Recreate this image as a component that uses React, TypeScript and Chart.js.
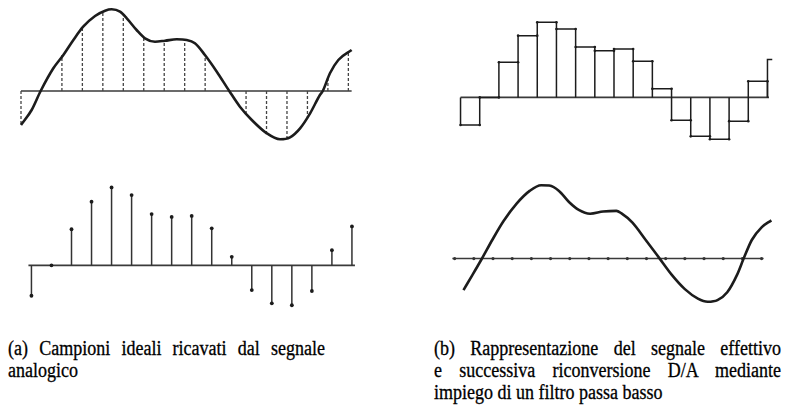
import { useEffect, useRef } from "react";
import Chart from "chart.js/auto";

// ---------- DATA (sample index on x, amplitude on y) ----------
const sampleIndex = [0, 1, 2, 3, 4, 5, 6, 7, 8, 9, 10, 11, 12, 13, 14, 15, 16];

// (a) top: analog signal
const analogX = [0, 0.52, 0.96, 1.58, 2.07, 2.56, 3.04, 3.62, 4.11, 4.43, 4.84, 5.17, 5.65, 6.06, 6.55, 7.04, 7.61, 8.1, 8.5, 8.99, 9.57, 10.18, 10.7, 11.28, 12.01, 12.66, 13.15, 13.64, 14.13, 14.61, 14.75, 15.1, 15.51, 16.16];
const analogY = [-34, -19, 0, 22.7, 36, 51, 64.3, 75, 80.3, 81.7, 79.3, 72.7, 61, 52.7, 49.3, 50.3, 51.7, 51, 47.7, 36, 19.3, 0, -15.7, -29, -42.3, -48.3, -46.3, -37.3, -22.3, -4, 0, 17.7, 31, 41];
// dashed sampling lines in (a) top
const analogAtSamples = [-34, 0, 36, 64, 80, 73, 53, 50, 51, 36, 0, -22, -42, -47, -26, 12, 39];

// (a) bottom: ideal samples
const idealSamples = [-32, 0, 38, 67, 82, 74, 54, 51, 52, 39, 9, -26, -40, -42, -27, 16, 41];

// (b) top: held levels of the effective signal
const heldLevels = [-29, 0, 37, 65, 79, 72, 53, 49, 51, 38, 9, -24, -41, -44, -25, 17];
const lastHeld = 40;

// (b) bottom: reconstructed (low-pass filtered) signal
const reconX = [0.46, 0.93, 1.41, 1.96, 2.55, 3.23, 3.91, 4.51, 4.93, 5.44, 5.96, 6.47, 7.06, 7.74, 8.43, 8.68, 9.27, 9.96, 10.64, 11.32, 12.0, 12.68, 13.19, 13.7, 14.21, 14.72, 15.07, 15.49, 16.0, 16.51];
const reconY = [-33.2, -17.2, -0.5, 19.5, 39.5, 57.8, 71.2, 77.2, 76.8, 71.2, 59.5, 51.2, 47.2, 49.5, 50.2, 47.8, 37.8, 19.5, 1.2, -17.2, -32.2, -42.2, -45.5, -43.8, -35.5, -17.2, 0.2, 19.5, 32.8, 40.2];

// axis extents (in sample-index units)
const axisA = [0, 16.16];
const axisB = [-0.15, 16.15];
const axisC = [0, 16.08];
const axisD = [-0.12, 16.1];

const captionA = ["(a) Campioni ideali ricavati dal segnale", "analogico"];
const captionB = [
  "(b) Rappresentazione del segnale effettivo",
  "e successiva riconversione D/A mediante",
  "impiego di un filtro passa basso",
];

// ---------- LAYOUT ----------
type Box = { left: number; top: number; width: number; height: number };
const boxA: Box = { left: 0, top: 0, width: 400, height: 160 };
const boxB: Box = { left: 0, top: 160, width: 400, height: 160 };
const boxC: Box = { left: 400, top: 0, width: 395, height: 160 };
const boxD: Box = { left: 400, top: 160, width: 395, height: 160 };

const INK = "#1c1c1c";
const AXIS = "#3a3a3a";

function scalesFor(box: Box, x0Px: number, xStep: number, axisYPx: number) {
  const xmin = (box.left - x0Px) / xStep;
  const xmax = xmin + box.width / xStep;
  const ymax = axisYPx - box.top;
  const ymin = ymax - box.height;
  return {
    x: { type: "linear", min: xmin, max: xmax, display: false, offset: false },
    y: { type: "linear", min: ymin, max: ymax, display: false },
  } as any;
}

const pts = (xs: number[], ys: number[]) => xs.map((x, i) => ({ x, y: ys[i] }));
const stems = (vals: number[]) =>
  vals.flatMap((v, i) => [
    { x: sampleIndex[i], y: 0 },
    { x: sampleIndex[i], y: v },
    { x: sampleIndex[i], y: null as any },
  ]);
// zero-order-hold outline: each level drawn as a box from the axis
const holdOutline = (vals: number[]) =>
  vals.flatMap((v, i) => [
    { x: sampleIndex[i], y: 0 },
    { x: sampleIndex[i], y: v },
    { x: sampleIndex[i + 1], y: v },
    { x: sampleIndex[i + 1], y: 0 },
    { x: sampleIndex[i + 1], y: null as any },
  ]);
const axisLine = (span: number[]) => [
  { x: span[0], y: 0 },
  { x: span[1], y: 0 },
];

const baseOpts = (scales: any) => ({
  responsive: false,
  animation: false as const,
  devicePixelRatio: 1,
  events: [] as any,
  layout: { padding: 0 },
  plugins: { legend: { display: false }, tooltip: { enabled: false }, title: { display: false } },
  scales,
});

function lineDs(data: any[], extra: any = {}) {
  return {
    type: "line",
    data,
    showLine: true,
    pointRadius: 0,
    borderColor: INK,
    borderWidth: 1.5,
    fill: false,
    spanGaps: false,
    clip: false,
    ...extra,
  };
}

function cfgA(): any {
  return {
    type: "line",
    data: {
      datasets: [
        lineDs(pts(analogX, analogY), { borderWidth: 2.6, cubicInterpolationMode: "monotone" }),
        lineDs(stems(analogAtSamples), { borderColor: "#444", borderWidth: 1.3, borderDash: [3, 2] }),
        lineDs(axisLine(axisA), { borderColor: AXIS, borderWidth: 1.6 }),
      ],
    },
    options: baseOpts(scalesFor(boxA, 21, 20.46, 91)),
  };
}

function cfgB(): any {
  return {
    type: "line",
    data: {
      datasets: [
        lineDs(idealSamples.map((v, i) => ({ x: sampleIndex[i], y: v })), {
          showLine: false,
          pointRadius: 1.9,
          pointBackgroundColor: INK,
          pointBorderWidth: 0,
        }),
        lineDs(stems(idealSamples), { borderColor: "#333", borderWidth: 1.5 }),
        lineDs(axisLine(axisB), { borderColor: AXIS, borderWidth: 1.6 }),
      ],
    },
    options: baseOpts(scalesFor(boxB, 28, 20.44, 266.7)),
  };
}

function cfgC(): any {
  const corners = heldLevels.flatMap((v, i) => [
    { x: sampleIndex[i], y: v },
    { x: sampleIndex[i + 1], y: v },
  ]);
  return {
    type: "line",
    data: {
      datasets: [
        lineDs(corners, { showLine: false, pointRadius: 1.3, pointBackgroundColor: INK, pointBorderWidth: 0 }),
        lineDs(holdOutline(heldLevels), { borderColor: INK, borderWidth: 1.5 }),
        lineDs(
          [
            { x: sampleIndex[16], y: 0 },
            { x: sampleIndex[16], y: lastHeld },
            { x: sampleIndex[16] + 0.25, y: lastHeld },
          ],
          { borderColor: INK, borderWidth: 1.5 }
        ),
        lineDs(axisLine(axisC), { borderColor: AXIS, borderWidth: 1.6 }),
      ],
    },
    options: baseOpts(scalesFor(boxC, 457.7, 19.58, 98.3)),
  };
}

function cfgD(): any {
  return {
    type: "line",
    data: {
      datasets: [
        lineDs(pts(reconX, reconY), { borderWidth: 2.6, cubicInterpolationMode: "monotone" }),
        lineDs(sampleIndex.map((i) => ({ x: i, y: 0 })), {
          showLine: false,
          pointRadius: 1.6,
          pointBackgroundColor: "#333",
          pointBorderWidth: 0,
        }),
        lineDs(axisLine(axisD), { borderColor: AXIS, borderWidth: 1.6 }),
      ],
    },
    options: baseOpts(scalesFor(boxD, 451.7, 19.58, 259.5)),
  };
}

const SX = 0.9;

function Caption({ lines, left, top, width }: { lines: string[]; left: number; top: number; width: number }) {
  return (
    <div
      style={{
        position: "absolute",
        left,
        top,
        width: width / SX,
        fontFamily: "Liberation Serif, Times New Roman, serif",
        fontSize: 20,
        lineHeight: "22px",
        color: "#000",
        WebkitTextStroke: "0.3px #000",
        transform: `scaleX(${SX})`,
        transformOrigin: "0 0",
      }}
    >
      {lines.map((l, i) => (
        <div
          key={i}
          style={{
            textAlign: i < lines.length - 1 ? "justify" : "left",
            textAlignLast: i < lines.length - 1 ? "justify" : "left",
            whiteSpace: "nowrap",
          }}
        >
          {l}
        </div>
      ))}
    </div>
  );
}

export default function App() {
  const a = useRef<HTMLCanvasElement>(null);
  const b = useRef<HTMLCanvasElement>(null);
  const c = useRef<HTMLCanvasElement>(null);
  const d = useRef<HTMLCanvasElement>(null);

  useEffect(() => {
    const charts = [
      new Chart(a.current as HTMLCanvasElement, cfgA()),
      new Chart(b.current as HTMLCanvasElement, cfgB()),
      new Chart(c.current as HTMLCanvasElement, cfgC()),
      new Chart(d.current as HTMLCanvasElement, cfgD()),
    ];
    return () => charts.forEach((ch) => ch.destroy());
  }, []);

  const canvas = (ref: any, box: Box) => (
    <canvas
      ref={ref}
      width={box.width}
      height={box.height}
      style={{ position: "absolute", left: box.left, top: box.top, width: box.width, height: box.height }}
    />
  );

  return (
    <div
      style={{
        position: "absolute",
        left: 0,
        top: 0,
        width: 795,
        height: 414,
        background: "#fff",
        overflow: "hidden",
      }}
    >
      {canvas(a, boxA)}
      {canvas(b, boxB)}
      {canvas(c, boxC)}
      {canvas(d, boxD)}
      <Caption lines={captionA} left={8} top={337} width={317} />
      <Caption lines={captionB} left={434} top={337} width={347} />
    </div>
  );
}
